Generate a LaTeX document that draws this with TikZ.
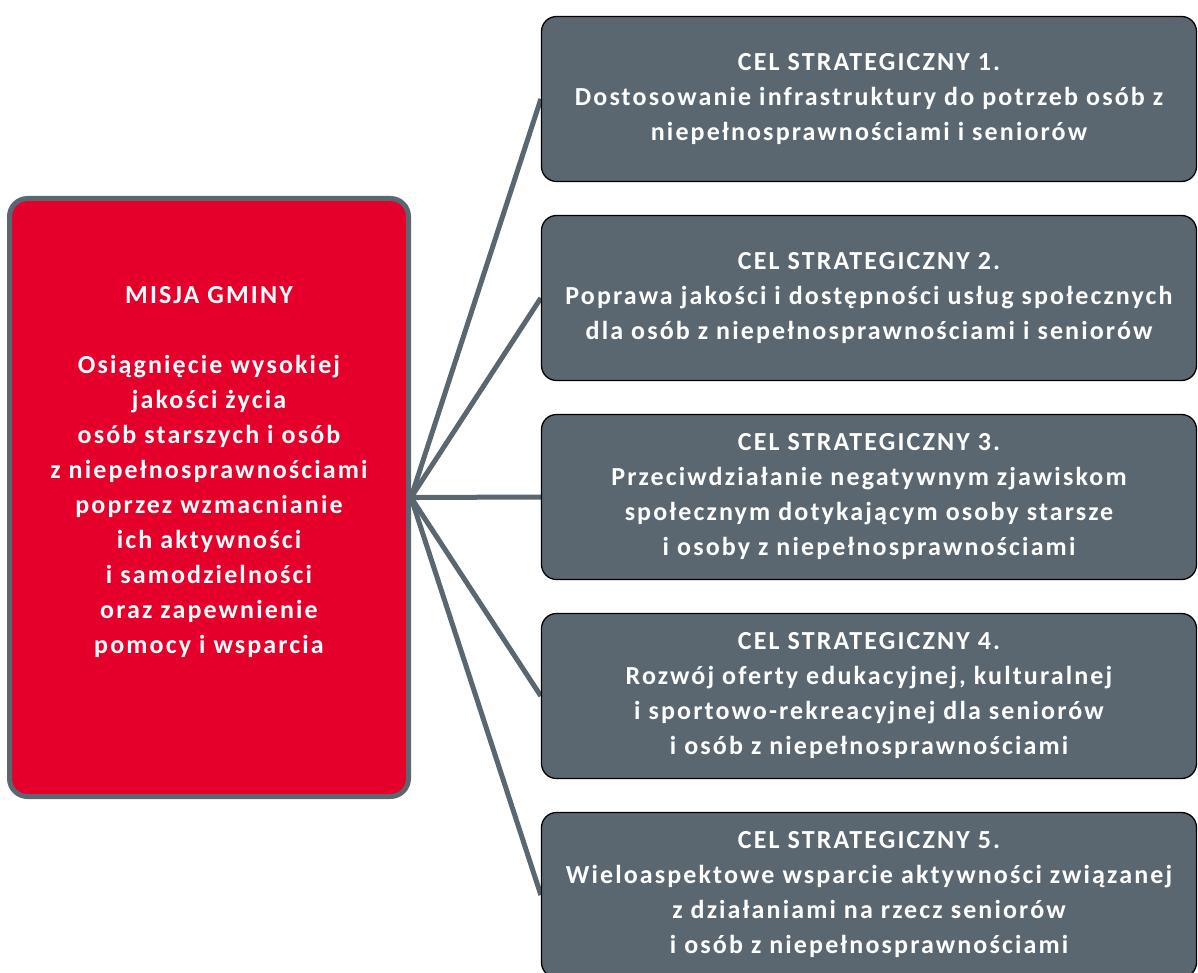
\documentclass[tikz,border=0pt]{standalone}
\usepackage{fontspec}
\setmainfont{Carlito}[LetterSpace=8.2]
\usetikzlibrary{backgrounds}
\definecolor{misred}{HTML}{E4002B}
\definecolor{slate}{HTML}{5B6770}
\begin{document}
\begin{tikzpicture}[x=1pt,y=-1pt,
  mission/.style={draw=slate, line width=5pt, fill=misred, rounded corners=18pt,
    minimum width=399pt, minimum height=598pt, inner sep=0pt},
  goal/.style={draw=black, line width=1.3pt, fill=slate, rounded corners=15pt,
    minimum width=655pt, minimum height=165pt, inner sep=0pt,
    text=white, font=\bfseries\fontsize{26}{35}\selectfont, align=center},
  label/.style={text=white, font=\bfseries\fontsize{26}{35}\selectfont, align=center},
  link/.style={draw=slate, line width=5pt}]
\useasboundingbox (0,0) rectangle (1198,973);
\clip (0,0) rectangle (1198,973);
\node[mission] (mis) at (209,497.5) {};
\node[label] (mistext) at (209,472) {MISJA GMINY\\[35pt]Osiągnięcie wysokiej\\jakości życia\\osób starszych i osób\\z niepełnosprawnościami\\poprzez wzmacnianie\\ich aktywności\\i samodzielności\\oraz zapewnienie\\pomocy i wsparcia};
\node[goal] (g1) at (869,99) {CEL STRATEGICZNY 1.\\Dostosowanie infrastruktury do potrzeb osób z\\niepełnosprawnościami i seniorów};
\node[goal] (g2) at (869,298) {CEL STRATEGICZNY 2.\\Poprawa jakości i dostępności usług społecznych\\dla osób z niepełnosprawnościami i seniorów};
\node[goal] (g3) at (869,497) {CEL STRATEGICZNY 3.\\Przeciwdziałanie negatywnym zjawiskom\\społecznym dotykającym osoby starsze\\i osoby z niepełnosprawnościami};
\node[goal] (g4) at (869,696) {CEL STRATEGICZNY 4.\\Rozwój oferty edukacyjnej, kulturalnej\\i sportowo-rekreacyjnej dla seniorów\\i osób z niepełnosprawnościami};
\node[goal] (g5) at (869,895) {CEL STRATEGICZNY 5.\\Wieloaspektowe wsparcie aktywności związanej\\z działaniami na rzecz seniorów\\i osób z niepełnosprawnościami};
\begin{scope}[on background layer]
\foreach \g in {g1,g2,g3,g4,g5}
  \draw[link] (mis.east) -- (\g.west);
\end{scope}
\end{tikzpicture}
\end{document}
